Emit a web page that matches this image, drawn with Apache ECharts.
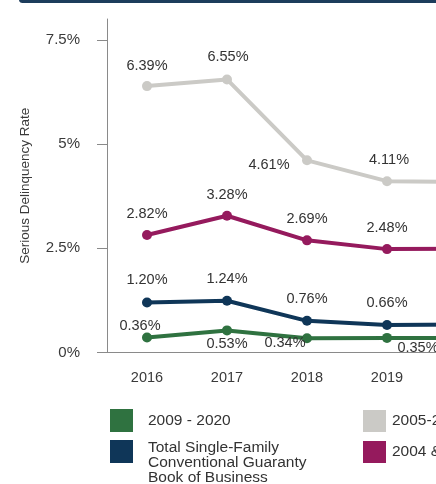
<!DOCTYPE html>
<html>
<head>
<meta charset="utf-8">
<script src="https://cdn.jsdelivr.net/npm/echarts@6/dist/echarts.min.js"></script>
<style>
  html, body { margin: 0; padding: 0; background: #fff; overflow: hidden; }
  #chart { width: 540px; height: 560px; }
</style>
</head>
<body>
<div id="chart"></div>
<script>
// Serious delinquency rate by loan vintage, year-end values (%)
const years = ['2016', '2017', '2018', '2019', '2020'];
const vintage2005to2008 = [6.39, 6.55, 4.61, 4.11, 4.09];
const vintage2004Prior = [2.82, 3.28, 2.69, 2.48, 2.49];
const totalBook = [1.20, 1.24, 0.76, 0.66, 0.67];
const vintage2009to2020 = [0.36, 0.53, 0.34, 0.35, 0.35];
const yTicks = [0, 2.5, 5, 7.5];

// Where each value label sits, as [dx, dy] from the point centre
const labelShift = {
  gray: [[0, -20], [1, -22], [-38, 5], [2, -21], [0, -21]],
  plum: [[0, -21], [0, -21], [0, -21], [0, -21], [0, -21]],
  navy: [[0, -22], [0, -22], [0, -22], [0, -22], [0, -22]],
  green: [[-7, -11], [0, 14], [-22, 5], [31, 10], [0, 12]]
};

const SYMBOL = 10;
const font = 'Liberation Sans, Arial, sans-serif';
const TOTAL = 'Total Single-Family\nConventional Guaranty\nBook of Business';

function pointsWithLabels(values, shifts) {
  return values.map((v, i) => ({
    value: v,
    label: {
      position: [SYMBOL / 2 + shifts[i][0], SYMBOL / 2 + shifts[i][1]],
      align: 'center',
      verticalAlign: 'middle'
    }
  }));
}

function lineSeries(name, values, color, shifts) {
  return {
    name: name,
    type: 'line',
    data: pointsWithLabels(values, shifts),
    symbol: 'circle',
    symbolSize: SYMBOL,
    lineStyle: { color: color, width: 4 },
    itemStyle: { color: color },
    label: {
      show: true,
      formatter: p => p.value.toFixed(2) + '%',
      fontFamily: font,
      fontSize: 14.5,
      color: '#333'
    },
    emphasis: { disabled: true },
    animation: false
  };
}

// A multi-line legend entry hangs from the top of its swatch: a spacer line
// above the text pushes the vertically-centred block down.
function hangingText(name) {
  if (name.indexOf('\n') < 0) return name;
  return '{gap|\u00a0}\n' + name.split('\n').map(s => '{t|' + s + '}').join('\n');
}

function legendBlock(names, left, top, itemHeight, gap, padLeft) {
  return {
    orient: 'vertical',
    left: left,
    top: top,
    padding: 0,
    itemWidth: 23,
    itemHeight: itemHeight,
    itemGap: gap,
    icon: 'rect',
    selectedMode: false,
    data: names,
    formatter: hangingText,
    textStyle: {
      fontFamily: font,
      fontSize: 15.5,
      lineHeight: 15,
      color: '#333',
      padding: [0, 0, 0, padLeft],
      rich: {
        gap: { fontSize: 1, lineHeight: 23 },
        t: { fontFamily: font, fontSize: 15.5, lineHeight: 15, color: '#333' }
      }
    }
  };
}

const chart = echarts.init(document.getElementById('chart'), null, { renderer: 'canvas' });

chart.setOption({
  backgroundColor: '#ffffff',
  animation: false,
  graphic: [
    {
      type: 'rect',
      shape: { x: 19, y: -4, width: 540, height: 7, r: [4, 0, 0, 4] },
      style: { fill: '#1d3d5c' },
      silent: true
    }
  ],
  grid: { left: 107, right: 33, top: 19, bottom: 207.5 },
  xAxis: {
    type: 'category',
    data: years,
    boundaryGap: true,
    axisLine: { lineStyle: { color: '#8a8a8a', width: 1 } },
    axisTick: { show: false },
    axisLabel: { margin: 18, fontFamily: font, fontSize: 14.5, color: '#3a3a3a' }
  },
  yAxis: {
    type: 'value',
    min: 0,
    max: 8,
    interval: 2.5,
    name: 'Serious Delinquency Rate',
    nameLocation: 'middle',
    nameRotate: 90,
    nameGap: 75,
    nameTextStyle: { fontFamily: font, fontSize: 13.5, color: '#3a3a3a' },
    axisLine: { show: true, lineStyle: { color: '#8a8a8a', width: 1 } },
    axisTick: { show: true, length: 10, customValues: yTicks, lineStyle: { color: '#8a8a8a' } },
    splitLine: { show: false },
    axisLabel: {
      margin: 27,
      customValues: yTicks,
      formatter: v => v + '%',
      fontFamily: font,
      fontSize: 15,
      color: '#3a3a3a'
    }
  },
  legend: [
    legendBlock(['2009 - 2020'], 110, 409, 23, 8, 10),
    legendBlock([TOTAL], 110, 417.5, 23, 8, 10),
    legendBlock(['2005-2008', '2004 & Prior'], 363, 410, 22, 9, 1)
  ],
  series: [
    lineSeries('2005-2008', vintage2005to2008, '#cbcac6', labelShift.gray),
    lineSeries('2004 & Prior', vintage2004Prior, '#951a5d', labelShift.plum),
    lineSeries(TOTAL, totalBook, '#0f3658', labelShift.navy),
    lineSeries('2009 - 2020', vintage2009to2020, '#2f7240', labelShift.green)
  ]
});
</script>
</body>
</html>
